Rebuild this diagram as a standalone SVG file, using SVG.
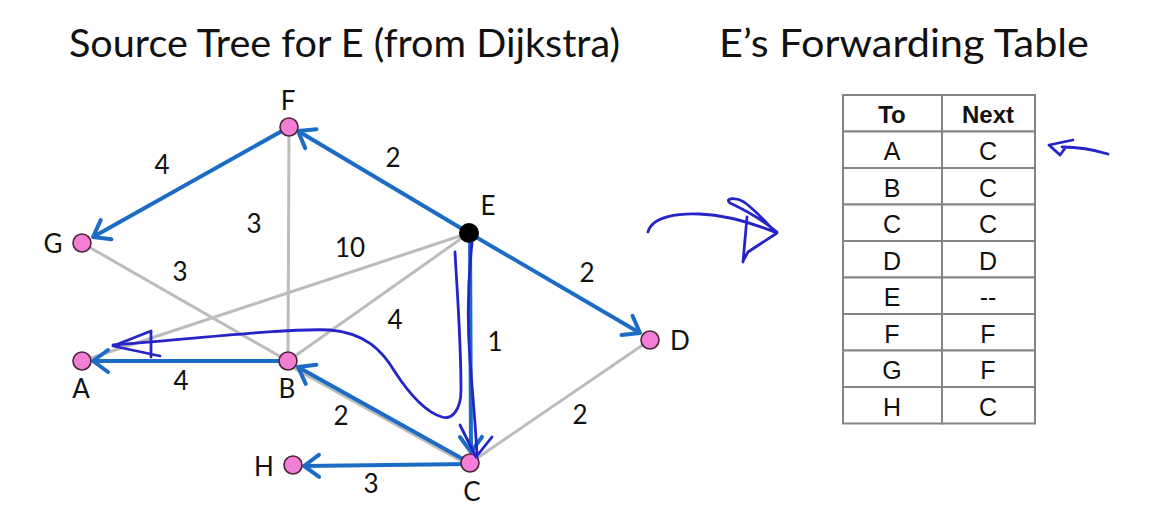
<svg xmlns="http://www.w3.org/2000/svg" width="1172" height="518" viewBox="0 0 1172 518">
<style>
.title{font-family:Lato,"Open Sans","Liberation Sans",sans-serif;font-size:38px;fill:#111}
.w{font-family:Lato,"Open Sans","Liberation Sans",sans-serif;font-size:26px;fill:#111;text-anchor:middle}
.gray{stroke:#bcbcbc;stroke-width:3;fill:none}
.tree{stroke:#1c6cc6;stroke-width:4;fill:none;marker-end:url(#ah)}
.node{fill:#f27ed6;stroke:#4a2438;stroke-width:1.6}
.ink{stroke:#2424c8;stroke-width:2.8;fill:none;stroke-linecap:round;stroke-linejoin:round}
.cell{fill:#fff;stroke:#858585;stroke-width:2}
.tt{font-family:"Liberation Sans",Arial,sans-serif;font-size:25px;fill:#111;text-anchor:middle}
.th{font-family:"Liberation Sans",Arial,sans-serif;font-size:24px;font-weight:bold;fill:#111;text-anchor:middle}
</style>
<defs>
<marker id="ah" markerUnits="userSpaceOnUse" markerWidth="30" markerHeight="30" viewBox="-20 -15 24 30" refX="0" refY="0" orient="auto">
<path d="M-15,-11 L0,0 L-15,11" fill="none" stroke="#1c6cc6" stroke-width="4" stroke-linecap="round" stroke-linejoin="round"/>
</marker>
</defs>
<rect width="1172" height="518" fill="#fff"/>
<text class="title" x="69" y="57" textLength="551" lengthAdjust="spacingAndGlyphs">Source Tree for E (from Dijkstra)</text>
<text class="title" x="719" y="57" textLength="370" lengthAdjust="spacingAndGlyphs">E’s Forwarding Table</text>

<g id="connectors">
<line class="gray" x1="289" y1="127" x2="288" y2="361"/>
<line class="gray" x1="82" y1="243" x2="288" y2="361"/>
<line class="gray" x1="469" y1="233" x2="82" y2="361"/>
<line class="gray" x1="469" y1="233" x2="288" y2="361"/>
<line class="gray" x1="470" y1="463" x2="650" y2="340"/>
<line class="gray" x1="472" y1="467" x2="290" y2="366"/>
<line class="tree" x1="469" y1="233" x2="298" y2="131"/>
<line class="tree" x1="289" y1="127" x2="93" y2="237"/>
<line class="tree" x1="469" y1="233" x2="640" y2="333"/>
<line class="tree" x1="470" y1="233" x2="471" y2="452"/>
<line class="tree" x1="470" y1="463" x2="298" y2="367"/>
<line class="tree" x1="288" y1="361" x2="93" y2="361"/>
<line class="tree" x1="470" y1="464" x2="304" y2="466"/>
<text class="w" x="162" y="174">4</text>
<text class="w" x="393" y="167">2</text>
<text class="w" x="254" y="233">3</text>
<text class="w" x="350" y="257">10</text>
<text class="w" x="180" y="281">3</text>
<text class="w" x="587" y="282">2</text>
<text class="w" x="395" y="329">4</text>
<text class="w" x="495" y="351">1</text>
<text class="w" x="181" y="390">4</text>
<text class="w" x="341" y="425">2</text>
<text class="w" x="580" y="424">2</text>
<text class="w" x="371" y="493">3</text>
</g>

<g id="node-F"><circle class="node" cx="289" cy="127" r="9"/><text class="w" x="288" y="110">F</text></g>
<g id="node-G"><circle class="node" cx="82" cy="243" r="9"/><text class="w" x="53" y="253">G</text></g>
<g id="node-E"><circle cx="469" cy="233" r="10" fill="#000"/><text class="w" x="488" y="215">E</text></g>
<g id="node-A"><circle class="node" cx="82" cy="361" r="9"/><text class="w" x="81" y="398">A</text></g>
<g id="node-B"><circle class="node" cx="288" cy="361" r="9"/><text class="w" x="287" y="398">B</text></g>
<g id="node-D"><circle class="node" cx="650" cy="340" r="9"/><text class="w" x="680" y="350">D</text></g>
<g id="node-C"><circle class="node" cx="470" cy="463" r="9"/><text class="w" x="472" y="501">C</text></g>
<g id="node-H"><circle class="node" cx="293" cy="465" r="9"/><text class="w" x="264" y="476">H</text></g>

<g id="table">
<rect class="cell" x="843" y="95" width="99" height="36.5"/><rect class="cell" x="942" y="95" width="93" height="36.5"/>
<text class="th" x="892" y="123">To</text><text class="th" x="988" y="123">Next</text>
<rect class="cell" x="843" y="131.5" width="99" height="36.5"/><rect class="cell" x="942" y="131.5" width="93" height="36.5"/>
<text class="tt" x="892" y="160">A</text><text class="tt" x="988" y="160">C</text>
<rect class="cell" x="843" y="168" width="99" height="36.5"/><rect class="cell" x="942" y="168" width="93" height="36.5"/>
<text class="tt" x="892" y="196.5">B</text><text class="tt" x="988" y="196.5">C</text>
<rect class="cell" x="843" y="204.5" width="99" height="36.5"/><rect class="cell" x="942" y="204.5" width="93" height="36.5"/>
<text class="tt" x="892" y="233">C</text><text class="tt" x="988" y="233">C</text>
<rect class="cell" x="843" y="241" width="99" height="36.5"/><rect class="cell" x="942" y="241" width="93" height="36.5"/>
<text class="tt" x="892" y="269.5">D</text><text class="tt" x="988" y="269.5">D</text>
<rect class="cell" x="843" y="277.5" width="99" height="36.5"/><rect class="cell" x="942" y="277.5" width="93" height="36.5"/>
<text class="tt" x="892" y="306">E</text><text class="tt" x="988" y="306">--</text>
<rect class="cell" x="843" y="314" width="99" height="36.5"/><rect class="cell" x="942" y="314" width="93" height="36.5"/>
<text class="tt" x="892" y="342.5">F</text><text class="tt" x="988" y="342.5">F</text>
<rect class="cell" x="843" y="350.5" width="99" height="36.5"/><rect class="cell" x="942" y="350.5" width="93" height="36.5"/>
<text class="tt" x="892" y="379">G</text><text class="tt" x="988" y="379">F</text>
<rect class="cell" x="843" y="387" width="99" height="36.5"/><rect class="cell" x="942" y="387" width="93" height="36.5"/>
<text class="tt" x="892" y="415.5">H</text><text class="tt" x="988" y="415.5">C</text>
</g>

<g id="ink">
<path class="ink" d="M455,252 C457,290 461,340 461,390 C461,410 452,420 442,417 C425,412 410,395 395,372 C382,350 365,333 330,330 C290,328 200,338 113,345"/>
<path class="ink" d="M160,356 L113,346 L151,331 L151,357"/>
<path class="ink" d="M472,243 C468,280 467,320 470,360 C473,400 476,430 477,457"/>
<path class="ink" d="M460,425 L476,457 L492,437"/>
<path class="ink" d="M648,232 C652,216 680,213 700,214 C725,215 750,222 777,233 L748,252 L743,261 M747,217 L743,262 M777,232 C765,222 745,210 730,203 C724,198 736,197 744,202 C756,211 766,222 773,230"/>
<path class="ink" d="M1108,154 C1095,150 1080,147 1062,147 M1073,140 L1049,145 L1060,155 L1066,147"/>
</g>
</svg>
